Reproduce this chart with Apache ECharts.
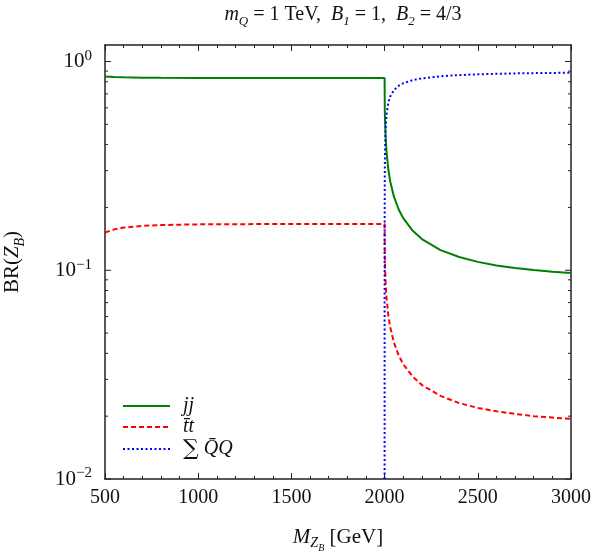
<!DOCTYPE html>
<html><head><meta charset="utf-8">
<script src="https://cdn.jsdelivr.net/npm/echarts@6/dist/echarts.min.js"></script>
<style>html,body{margin:0;padding:0;background:#fff}#c{width:603px;height:557px}</style>
</head><body><div id="c"></div>
<script>
// Mass points (GeV) for jj and ttbar curves
const massJT = [500,550,600,700,800,1000,1200,1500,2000,2001,2002,2005,2010,2020,2030,2050,2075,2100,2150,2200,2300,2400,2500,2600,2700,2800,2900,3000];
const jjValues = [0.8482,0.8430,0.8399,0.8368,0.8353,0.8341,0.8337,0.8335,0.8334,0.5974,0.5348,0.4431,0.3718,0.3038,0.2671,0.2252,0.1960,0.1776,0.1549,0.1411,0.1249,0.1157,0.1097,0.1055,0.1025,0.1002,0.0984,0.0970];
const ttValues = [0.1518,0.1570,0.1601,0.1633,0.1647,0.1659,0.1663,0.1665,0.1666,0.1195,0.1070,0.0886,0.0744,0.0608,0.0534,0.0451,0.0392,0.0355,0.0310,0.0282,0.0250,0.0231,0.0219,0.0211,0.0205,0.0200,0.0197,0.0194];
// Sum over Qbar Q (opens at threshold 2 m_Q)
const massQQ = [2000,2000.02,2000.2,2001,2002,2005,2010,2020,2030,2050,2075,2100,2150,2200,2300,2400,2500,2600,2700,2800,2900,3000];
const qqValues = [0.01,0.0529,0.1502,0.2831,0.3583,0.4683,0.5538,0.6355,0.6795,0.7297,0.7648,0.7869,0.8142,0.8307,0.8501,0.8612,0.8684,0.8734,0.8771,0.8798,0.8819,0.8836];
// Axis ticks
const xTickValues = [500,1000,1500,2000,2500,3000];
const yMajorTicks = [0.01,0.1,1];
const yMinorTicks = [0.02,0.03,0.04,0.05,0.06,0.07,0.08,0.09,0.2,0.3,0.4,0.5,0.6,0.7,0.8,0.9];
const yTickLabels = {'1':'{b|10}{s|0}','0.1':'{b|10}{s|−1}','0.01':'{b|10}{s|−2}'};
const seriesNames = ['jj','tt','qq'];

const SERIF = 'Liberation Serif';
const C = '#111';
const chart = echarts.init(document.getElementById('c'), null, {renderer:'canvas'});
const axisCommon = {
  min: 500, max: 3000, interval: 500,
  axisLine: {show:true, lineStyle:{color:'#222', width:1.5}},
  axisTick: {show:true, inside:true, length:6, lineStyle:{color:'#222', width:1}},
  minorTick: {show:true, splitNumber:5, length:3, lineStyle:{color:'#222', width:1}},
  splitLine: {show:false}
};
const tickData = yMajorTicks.map(v=>[v,6]).concat(yMinorTicks.map(v=>[v,3]));

chart.setOption({
  animation:false,
  backgroundColor:'#fff',
  title:{
    text:'{i|m}{sub|Q}{r| = 1 TeV,  }{i|B}{sub|1}{r| = 1,  }{i|B}{sub|2}{r| = 4/3}',
    left: 338, top: 1, textAlign:'center',
    textStyle:{
      fontWeight:'normal',
      rich:{
        i:{fontFamily:SERIF, fontStyle:'italic', fontWeight:'normal', fontSize:20, color:C, lineHeight:22, padding:[0,0,4,0]},
        r:{fontFamily:SERIF, fontWeight:'normal', fontSize:20, color:C, lineHeight:22, padding:[0,0,4,0]},
        sub:{fontFamily:SERIF, fontStyle:'italic', fontWeight:'normal', fontSize:13, color:C, lineHeight:13, verticalAlign:'bottom'}
      }
    }
  },
  grid:{left:105, right:32, top:45, bottom:78, containLabel:false, outerBoundsMode:'none'},
  legend:{
    data: seriesNames,
    orient:'vertical', left:117, top:391,
    itemWidth:47, itemHeight:14, itemGap:1,
    itemStyle:{opacity:0},
    formatter: function(n){
      if(n==='jj') return '{p|}{i|jj}';
      if(n==='tt') return '{p|}{i|t̄t}';
      return '{p|}{sum|∑}{i| Q̄Q}';
    },
    textStyle:{
      rich:{
        p:{width:8, fontSize:20, lineHeight:22},
        i:{fontFamily:SERIF, fontStyle:'italic', fontSize:20, color:C, lineHeight:22},
        sum:{fontFamily:'DejaVu Serif', fontSize:22, color:C, lineHeight:22}
      }
    }
  },
  xAxis:[
    Object.assign({type:'value', position:'bottom',
      name:'{i|M}{sub|Z}{sub2|B}{r| [GeV]}', nameLocation:'middle', nameGap:50,
      nameTextStyle:{rich:{
        i:{fontFamily:SERIF, fontStyle:'italic', fontSize:21, color:C, lineHeight:24, padding:[0,0,7,0]},
        r:{fontFamily:SERIF, fontSize:21, color:C, lineHeight:24, padding:[0,0,7,0]},
        sub:{fontFamily:SERIF, fontStyle:'italic', fontSize:14, color:C, lineHeight:14, verticalAlign:'bottom', padding:[0,0,3,0]},
        sub2:{fontFamily:SERIF, fontStyle:'italic', fontSize:10, color:C, lineHeight:10, verticalAlign:'bottom'}
      }},
      axisLabel:{show:true, margin:9, fontFamily:SERIF, fontSize:20, color:C,
        formatter:(v)=> xTickValues.indexOf(v)>=0 ? String(v) : ''}
    }, axisCommon),
    Object.assign({type:'value', position:'top', axisLabel:{show:false}}, axisCommon)
  ],
  yAxis:[
    {type:'log', logBase:10, min:0.01, max:1.2, position:'left',
      axisLine:{show:true, lineStyle:{color:'#222', width:1.5}},
      axisTick:{show:false}, splitLine:{show:false}, minorTick:{show:false},
      name:'{r|BR(}{i|Z}{sub|B}{r|)}', nameLocation:'middle', nameGap:78, nameRotate:90,
      nameTextStyle:{rich:{
        i:{fontFamily:SERIF, fontStyle:'italic', fontSize:21, color:C, lineHeight:24, padding:[0,0,6,0]},
        r:{fontFamily:SERIF, fontSize:21, color:C, lineHeight:24, padding:[0,0,6,0]},
        sub:{fontFamily:SERIF, fontStyle:'italic', fontSize:14, color:C, lineHeight:14, verticalAlign:'bottom'}
      }},
      axisLabel:{show:true, margin:13, showMaxLabel:false,
        formatter:(v)=>{ const k = String(+v.toPrecision(3)); return yTickLabels[k] || ''; },
        rich:{
          b:{fontFamily:SERIF, fontSize:21, color:C, lineHeight:26},
          s:{fontFamily:SERIF, fontSize:15, color:C, verticalAlign:'top', lineHeight:26, padding:[0,0,9,0]}
        }}
    },
    {type:'log', logBase:10, min:0.01, max:1.2, position:'right',
      axisLine:{show:true, lineStyle:{color:'#222', width:1.5}},
      axisTick:{show:false}, axisLabel:{show:false}, splitLine:{show:false}}
  ],
  series:[
    {type:'custom', silent:true, xAxisIndex:0, yAxisIndex:0, data:tickData, clip:false, z:5,
      renderItem:(params, api)=>{
        const v = api.value(0), len = api.value(1);
        const l = api.coord([500, v]), r = api.coord([3000, v]);
        return {type:'group', children:[
          {type:'line', shape:{x1:l[0], y1:l[1], x2:l[0]+len, y2:l[1]}, style:{stroke:'#222', lineWidth:1}},
          {type:'line', shape:{x1:r[0], y1:r[1], x2:r[0]-len, y2:r[1]}, style:{stroke:'#222', lineWidth:1}}
        ]};
      }},
    {name:'jj', type:'line', symbol:'none', clip:true, z:3,
      data: massJT.map((m,i)=>[m, jjValues[i]]),
      lineStyle:{color:'#008000', width:2}, itemStyle:{color:'#008000'}},
    {name:'tt', type:'line', symbol:'none', clip:true, z:3,
      data: massJT.map((m,i)=>[m, ttValues[i]]),
      lineStyle:{color:'#ff0000', width:2, type:[5,3]}, itemStyle:{color:'#ff0000'}},
    {name:'qq', type:'line', symbol:'none', clip:true, z:3,
      data: massQQ.map((m,i)=>[m, qqValues[i]]),
      lineStyle:{color:'#0000ff', width:2, type:[2,2.5]}, itemStyle:{color:'#0000ff'}}
  ]
});
</script></body></html>
